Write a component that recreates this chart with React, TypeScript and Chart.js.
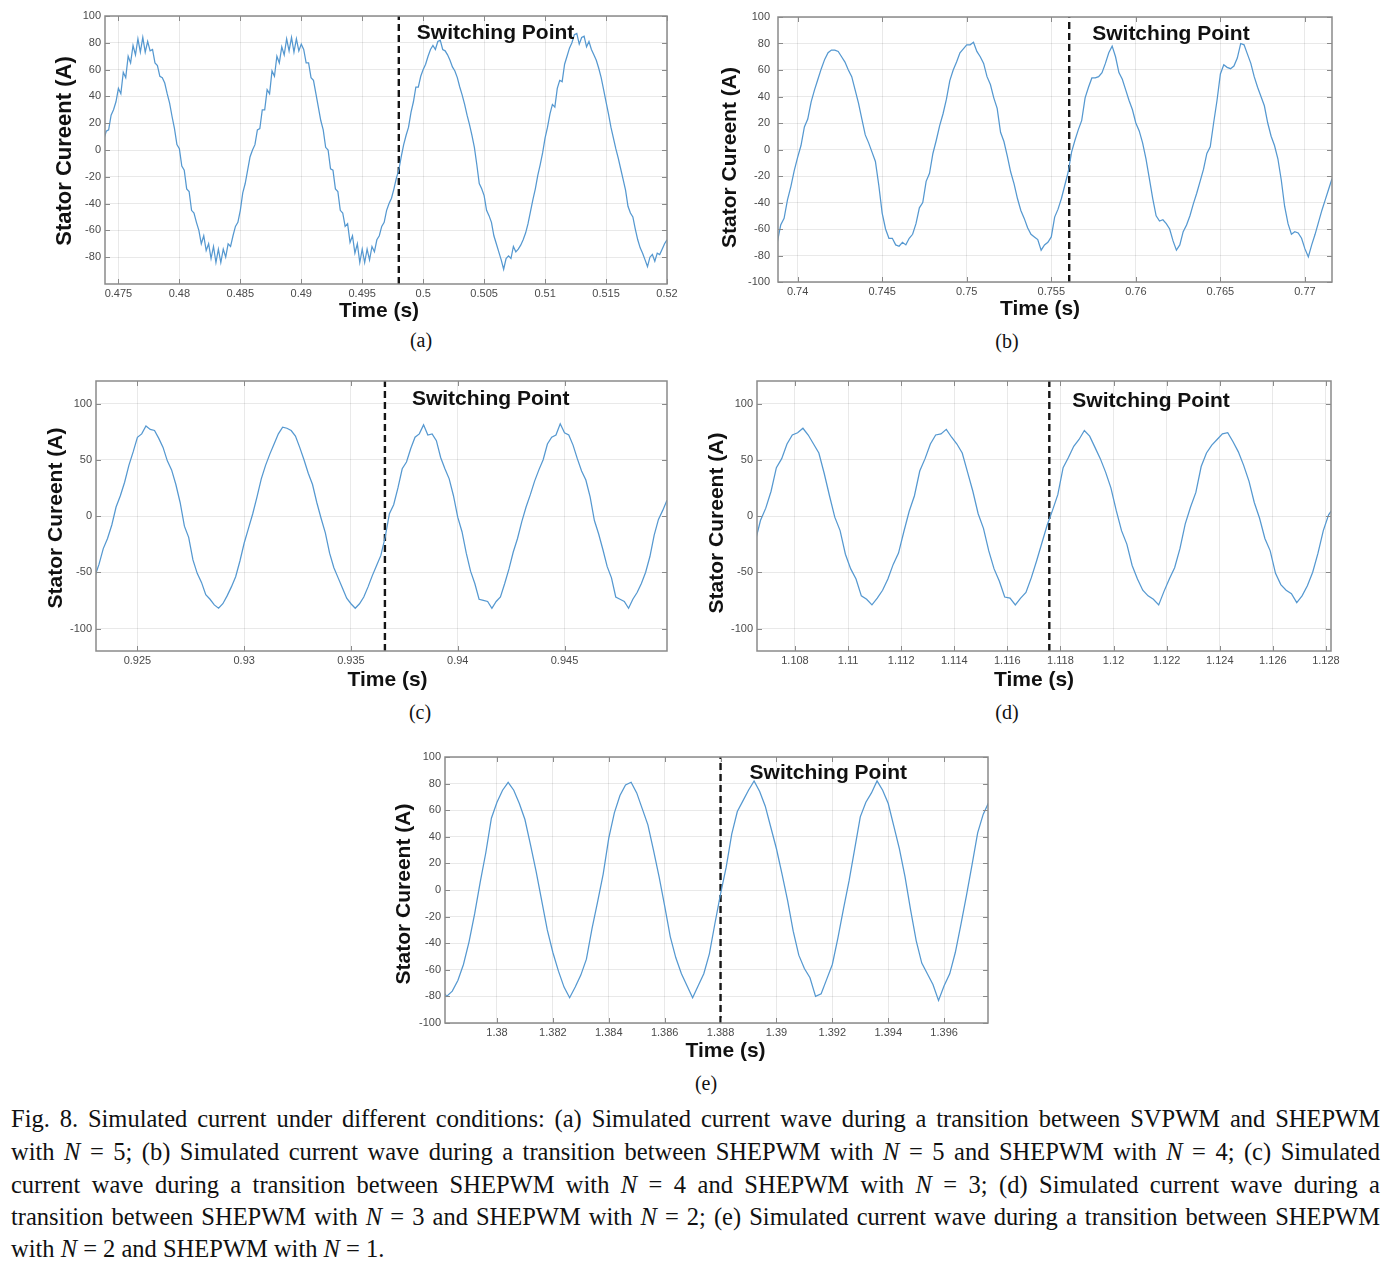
import React, { useEffect, useRef } from "react";
import { Chart, registerables } from "chart.js";

Chart.register(...registerables);

// ---------- data (sampling step of the traces) ----------
const DT = 0.0002;

// (a) SVPWM -> SHEPWM N=5
const T0_A = 0.4738;
const CURRENT_A = [
  8, 14, 15, 26, 30, 36, 46, 42, 58, 54,
  70, 65, 78, 71, 83, 73, 84, 73, 81, 74,
  75, 65, 63, 55, 54, 50, 42, 35, 25, 16,
  4, 1, -12, -15, -29, -31, -45, -47, -54, -60,
  -70, -64, -75, -70, -81, -72, -84, -74, -84, -74,
  -80, -70, -72, -64, -57, -54, -45, -32, -25, -15,
  -5, 0, 4, 15, 16, 30, 30, 45, 42, 59,
  55, 70, 65, 77, 71, 83, 74, 84, 73, 83,
  74, 79, 75, 65, 65, 54, 52, 42, 32, 22,
  15, 2, 0, -14, -15, -29, -31, -45, -47, -57,
  -55, -69, -64, -77, -70, -84, -74, -84, -74, -82,
  -72, -76, -67, -64, -57, -54, -45, -40, -36, -29,
  -21, -15, -5, 4, 11, 17, 28, 36, 47, 47,
  55, 60, 64, 70, 75, 78, 75, 81, 82, 75,
  74, 71, 67, 62, 59, 54, 47, 41, 34, 26,
  19, 11, 2, -11, -25, -29, -34, -45, -49, -54,
  -64, -70, -76, -82, -89, -81, -79, -81, -72, -76,
  -74, -71, -67, -62, -55, -46, -37, -29, -19, -11,
  -2, 9, 17, 27, 34, 32, 46, 52, 51, 64,
  70, 76, 80, 86, 87, 79, 84, 85, 77, 81,
  75, 71, 67, 61, 54, 45, 36, 27, 17, 9,
  1, -6, -14, -22, -30, -42, -47, -50, -59, -67,
  -73, -77, -82, -87, -80, -78, -83, -77, -78, -74,
  -70, -67,
];
const SWITCH_A = 0.498;
const XTICKS_A = [0.475, 0.48, 0.485, 0.49, 0.495, 0.5, 0.505, 0.51, 0.515, 0.52];
const XLABELS_A = ["0.475", "0.48", "0.485", "0.49", "0.495", "0.5", "0.505", "0.51", "0.515", "0.52"];
const YTICKS_A = [-80, -60, -40, -20, 0, 20, 40, 60, 80, 100];

// (b) SHEPWM N=5 -> N=4
const T0_B = 0.7388;
const CURRENT_B = [
  -70, -57, -52, -38, -28, -16, -6, 3, 17, 23,
  36, 45, 53, 61, 68, 73, 75, 75, 74, 70,
  66, 60, 55, 45, 35, 23, 11, 5, -2, -9,
  -27, -48, -60, -67, -67, -72, -73, -70, -72, -67,
  -64, -56, -44, -40, -24, -18, -3, 7, 18, 27,
  38, 52, 60, 66, 73, 76, 79, 79, 81, 74,
  70, 65, 55, 49, 39, 31, 13, 6, -5, -17,
  -26, -37, -46, -52, -59, -64, -66, -68, -76, -72,
  -70, -66, -51, -45, -37, -27, -17, -2, 7, 15,
  22, 39, 47, 54, 54, 55, 58, 65, 73, 78,
  70, 58, 53, 45, 37, 30, 20, 14, 5, -7,
  -22, -37, -50, -54, -53, -56, -60, -69, -76, -72,
  -62, -57, -50, -41, -33, -24, -15, -3, 2, 20,
  37, 57, 64, 62, 61, 63, 69, 80, 79, 72,
  65, 55, 47, 40, 33, 20, 10, 3, -7, -23,
  -43, -56, -64, -62, -63, -67, -75, -81, -72, -64,
  -55, -46, -38, -30, -22,
];
const SWITCH_B = 0.75606;
const XTICKS_B = [0.74, 0.745, 0.75, 0.755, 0.76, 0.765, 0.77];
const XLABELS_B = ["0.74", "0.745", "0.75", "0.755", "0.76", "0.765", "0.77"];
const YTICKS_B = [-100, -80, -60, -40, -20, 0, 20, 40, 60, 80, 100];

// (c) SHEPWM N=4 -> N=3
const T0_C = 0.923;
const CURRENT_C = [
  -54, -43, -29, -20, -8, 8, 18, 30, 45, 57,
  70, 73, 80, 77, 76, 69, 61, 49, 41, 28,
  12, -9, -19, -39, -51, -59, -70, -74, -79, -82,
  -78, -71, -63, -54, -40, -24, -11, 2, 17, 33,
  45, 55, 64, 73, 79, 78, 76, 71, 61, 50,
  38, 28, 12, -2, -15, -33, -46, -55, -64, -73,
  -78, -82, -78, -72, -63, -53, -44, -35, -19, 2,
  10, 25, 42, 48, 60, 70, 73, 81, 72, 73,
  67, 52, 42, 33, 18, -1, -14, -33, -49, -60,
  -74, -75, -76, -82, -76, -72, -60, -47, -32, -20,
  -5, 8, 19, 31, 41, 50, 64, 70, 72, 82,
  74, 72, 63, 51, 40, 32, 17, -4, -16, -30,
  -45, -55, -72, -74, -76, -82, -74, -68, -60, -50,
  -36, -17, -3, 5, 14,
];
const SWITCH_C = 0.93659;
const XTICKS_C = [0.925, 0.93, 0.935, 0.94, 0.945];
const XLABELS_C = ["0.925", "0.93", "0.935", "0.94", "0.945"];
const YTICKS_C = [-100, -50, 0, 50, 100];

// (d) SHEPWM N=3 -> N=2
const T0_D = 1.1065;
const CURRENT_D = [
  -23, -4, 7, 22, 43, 51, 64, 72, 74, 78,
  72, 64, 56, 38, 18, -1, -13, -34, -47, -56,
  -71, -74, -79, -73, -66, -56, -43, -33, -14, 4,
  18, 40, 51, 64, 72, 73, 77, 70, 64, 56,
  39, 22, 2, -11, -31, -47, -58, -72, -73, -79,
  -73, -68, -55, -40, -24, -8, 5, 19, 43, 52,
  62, 68, 76, 71, 61, 51, 39, 25, 5, -13,
  -25, -44, -56, -66, -71, -74, -79, -67, -56, -46,
  -29, -7, 8, 21, 44, 56, 63, 68, 73, 74,
  66, 57, 45, 31, 12, -2, -20, -31, -51, -61,
  -66, -69, -77, -71, -62, -50, -33, -13, 1, 8,
];
const SWITCH_D = 1.11758;
const XTICKS_D = [1.108, 1.11, 1.112, 1.114, 1.116, 1.118, 1.12, 1.122, 1.124, 1.126, 1.128];
const XLABELS_D = ["1.108", "1.11", "1.112", "1.114", "1.116", "1.118", "1.12", "1.122", "1.124", "1.126", "1.128"];
const YTICKS_D = [-100, -50, 0, 50, 100];

// (e) SHEPWM N=2 -> N=1
const T0_E = 1.378;
const CURRENT_E = [
  -74, -80, -76, -68, -56, -39, -18, 6, 28, 54,
  66, 75, 81, 75, 65, 53, 34, 14, -8, -30,
  -47, -61, -73, -81, -73, -64, -52, -29, -9, 12,
  39, 58, 71, 79, 81, 73, 61, 49, 30, 10,
  -12, -35, -51, -63, -72, -81, -72, -63, -48, -25,
  -3, 17, 42, 59, 67, 75, 82, 74, 63, 47,
  31, 12, -8, -31, -49, -59, -66, -80, -78, -67,
  -56, -36, -14, 7, 31, 55, 66, 73, 82, 75,
  65, 48, 31, 10, -15, -38, -55, -63, -71, -83,
  -72, -63, -47, -26, -4, 19, 43, 57, 66, 72,
];
const SWITCH_E = 1.388;
const XTICKS_E = [1.38, 1.382, 1.384, 1.386, 1.388, 1.39, 1.392, 1.394, 1.396];
const XLABELS_E = ["1.38", "1.382", "1.384", "1.386", "1.388", "1.39", "1.392", "1.394", "1.396"];
const YTICKS_E = [-100, -80, -60, -40, -20, 0, 20, 40, 60, 80, 100];

const CAPTION_LINES = [
  "Fig. 8. Simulated current under different conditions: (a) Simulated current wave during a transition between SVPWM and SHEPWM",
  "with {N} = 5; (b) Simulated current wave during a transition between SHEPWM with {N} = 5 and SHEPWM with {N} = 4; (c) Simulated",
  "current wave during a transition between SHEPWM with {N} = 4 and SHEPWM with {N} = 3; (d) Simulated current wave during a",
  "transition between SHEPWM with {N} = 3 and SHEPWM with {N} = 2; (e) Simulated current wave during a transition between SHEPWM",
  "with {N} = 2 and SHEPWM with {N} = 1.",
];

// ---------- styles ----------
const SANS = "'Liberation Sans', Arial, Helvetica, sans-serif";
const SERIF = "'Liberation Serif', 'Times New Roman', serif";
const LINE_BLUE = "#5598d0";
const GRID = "rgba(0,0,0,0.085)";
const BOX = "#8a8a8a";
const TICK_COLOR = "#4a4a4a";
const TITLE_COLOR = "#111";
const PAD_TOP = 16;
const PAD_RIGHT = 16;

type PanelCfg = {
  t0: number;
  values: number[];
  sw: number;
  xMin: number;
  xMax: number;
  yMin: number;
  yMax: number;
  xTicks: number[];
  xLabels: string[];
  yTicks: number[];
  L: number;
  T: number;
  R: number;
  B: number;
  yW: number;
  xH: number;
  yTickPad: number;
  yTitleSize: number;
  xTitleDx: number;
  yTitleDy: number;
  swDx: number;
  swDy: number;
  caption: string;
  capX: number;
  capY: number;
};

const PANELS: PanelCfg[] = [
  {
    t0: T0_A, values: CURRENT_A, sw: SWITCH_A,
    xMin: 0.4739, xMax: 0.52, yMin: -100, yMax: 100,
    xTicks: XTICKS_A, xLabels: XLABELS_A, yTicks: YTICKS_A,
    L: 105, T: 16, R: 667, B: 284, yW: 53, xH: 40, yTickPad: 4, yTitleSize: 22,
    xTitleDx: -7, yTitleDy: 1,
    swDx: 18, swDy: 17, caption: "(a)", capX: 421, capY: 340,
  },
  {
    t0: T0_B, values: CURRENT_B, sw: SWITCH_B,
    xMin: 0.73884, xMax: 0.7716, yMin: -100, yMax: 100,
    xTicks: XTICKS_B, xLabels: XLABELS_B, yTicks: YTICKS_B,
    L: 778, T: 17, R: 1332, B: 282, yW: 60, xH: 40, yTickPad: 8, yTitleSize: 21,
    xTitleDx: -15, yTitleDy: 8,
    swDx: 23, swDy: 17, caption: "(b)", capX: 1007, capY: 341,
  },
  {
    t0: T0_C, values: CURRENT_C, sw: SWITCH_C,
    xMin: 0.92306, xMax: 0.9498, yMin: -120, yMax: 120,
    xTicks: XTICKS_C, xLabels: XLABELS_C, yTicks: YTICKS_C,
    L: 96, T: 381, R: 667, B: 651, yW: 52, xH: 42, yTickPad: 4, yTitleSize: 21,
    xTitleDx: 6, yTitleDy: 2,
    swDx: 27, swDy: 18, caption: "(c)", capX: 420, capY: 712,
  },
  {
    t0: T0_D, values: CURRENT_D, sw: SWITCH_D,
    xMin: 1.10657, xMax: 1.12819, yMin: -120, yMax: 120,
    xTicks: XTICKS_D, xLabels: XLABELS_D, yTicks: YTICKS_D,
    L: 757, T: 381, R: 1331, B: 651, yW: 52, xH: 42, yTickPad: 4, yTitleSize: 21,
    xTitleDx: -10, yTitleDy: 7,
    swDx: 23, swDy: 20, caption: "(d)", capX: 1007, capY: 712,
  },
  {
    t0: T0_E, values: CURRENT_E, sw: SWITCH_E,
    xMin: 1.37814, xMax: 1.39757, yMin: -100, yMax: 100,
    xTicks: XTICKS_E, xLabels: XLABELS_E, yTicks: YTICKS_E,
    L: 445, T: 757, R: 988, B: 1023, yW: 53, xH: 41, yTickPad: 4, yTitleSize: 21,
    xTitleDx: 9, yTitleDy: 4,
    swDx: 29, swDy: 16, caption: "(e)", capX: 706, capY: 1083,
  },
];

function Panel({ cfg }: { cfg: PanelCfg }) {
  const ref = useRef<HTMLCanvasElement | null>(null);
  const width = cfg.R - cfg.L + cfg.yW + PAD_RIGHT;
  const height = cfg.B - cfg.T + PAD_TOP + cfg.xH;
  const left = cfg.L - cfg.yW;
  const top = cfg.T - PAD_TOP;

  useEffect(() => {
    if (!ref.current) return;
    const overlay = {
      id: "matlabBox",
      afterDatasetsDraw(chart: any) {
        const { ctx, chartArea: a, scales } = chart;
        ctx.save();
        // switching label
        const xs = scales.x.getPixelForValue(cfg.sw);
        ctx.font = `bold 21px ${SANS}`;
        ctx.fillStyle = TITLE_COLOR;
        ctx.textBaseline = "middle";
        ctx.textAlign = "left";
        ctx.fillText("Switching Point", xs + cfg.swDx, a.top + cfg.swDy);
        // box
        ctx.strokeStyle = BOX;
        ctx.lineWidth = 1.5;
        ctx.strokeRect(a.left, a.top, a.right - a.left, a.bottom - a.top);
        // inward tick marks
        ctx.lineWidth = 1;
        ctx.beginPath();
        for (const t of scales.x.ticks) {
          const px = Math.round(scales.x.getPixelForValue(t.value)) + 0.5;
          ctx.moveTo(px, a.bottom);
          ctx.lineTo(px, a.bottom - 5);
          ctx.moveTo(px, a.top);
          ctx.lineTo(px, a.top + 5);
        }
        for (const t of scales.y.ticks) {
          const py = Math.round(scales.y.getPixelForValue(t.value)) + 0.5;
          ctx.moveTo(a.left, py);
          ctx.lineTo(a.left + 5, py);
          ctx.moveTo(a.right, py);
          ctx.lineTo(a.right - 5, py);
        }
        ctx.stroke();
        ctx.restore();
      },
      afterDraw(chart: any) {
        const { ctx, chartArea: a } = chart;
        ctx.save();
        ctx.fillStyle = TITLE_COLOR;
        ctx.textAlign = "center";
        ctx.textBaseline = "middle";
        // x-axis title
        ctx.font = `bold 21px ${SANS}`;
        ctx.fillText("Time (s)", (a.left + a.right) / 2 + cfg.xTitleDx, a.bottom + cfg.xH - 12.6);
        // y-axis title
        ctx.font = `bold ${cfg.yTitleSize}px ${SANS}`;
        ctx.translate(cfg.yTitleSize * 0.6, (a.top + a.bottom) / 2 + cfg.yTitleDy);
        ctx.rotate(-Math.PI / 2);
        ctx.fillText("Stator Cureent (A)", 0, 0);
        ctx.restore();
      },
    };

    const chart = new Chart(ref.current, {
      type: "line",
      data: {
        datasets: [
          {
            data: cfg.values.map((v, i) => ({ x: cfg.t0 + i * DT, y: v })),
            borderColor: LINE_BLUE,
            borderWidth: 1.25,
            pointRadius: 0,
            tension: 0,
            fill: false,
          },
          {
            data: [
              { x: cfg.sw, y: cfg.yMin },
              { x: cfg.sw, y: cfg.yMax },
            ],
            borderColor: "#151515",
            borderWidth: 2.4,
            borderDash: [7, 4],
            pointRadius: 0,
            fill: false,
          },
        ],
      },
      options: {
        animation: false,
        responsive: false,
        maintainAspectRatio: false,
        events: [],
        layout: { padding: { top: PAD_TOP, right: PAD_RIGHT, left: 0, bottom: 0 } },
        plugins: { legend: { display: false }, tooltip: { enabled: false } },
        scales: {
          x: {
            type: "linear",
            min: cfg.xMin,
            max: cfg.xMax,
            afterBuildTicks: (s: any) => {
              s.ticks = cfg.xTicks.map((v) => ({ value: v }));
            },
            afterFit: (s: any) => {
              s.height = cfg.xH;
            },
            ticks: {
              autoSkip: false,
              maxRotation: 0,
              minRotation: 0,
              padding: 3,
              color: TICK_COLOR,
              font: { size: 11, family: SANS },
              callback: (_v: any, i: number) => cfg.xLabels[i] ?? "",
            },
            grid: { color: GRID, lineWidth: 1, drawTicks: false },
            border: { display: false },
            title: { display: false },
          },
          y: {
            type: "linear",
            min: cfg.yMin,
            max: cfg.yMax,
            afterBuildTicks: (s: any) => {
              s.ticks = cfg.yTicks.map((v) => ({ value: v }));
            },
            afterFit: (s: any) => {
              s.width = cfg.yW;
            },
            ticks: {
              autoSkip: false,
              padding: cfg.yTickPad,
              color: TICK_COLOR,
              font: { size: 11, family: SANS },
              callback: (v: any) => String(v),
            },
            grid: { color: GRID, lineWidth: 1, drawTicks: false },
            border: { display: false },
            title: { display: false },
          },
        },
      } as any,
      plugins: [overlay],
    });
    return () => chart.destroy();
  }, [cfg]);

  return (
    <>
      <canvas
        ref={ref}
        width={width}
        height={height}
        style={{ position: "absolute", left, top, width, height, display: "block" }}
      />
      <div
        style={{
          position: "absolute",
          left: cfg.capX,
          top: cfg.capY,
          transform: "translate(-50%, -50%)",
          fontFamily: SERIF,
          fontSize: 20,
          color: "#111",
          whiteSpace: "nowrap",
        }}
      >
        {cfg.caption}
      </div>
    </>
  );
}

function CaptionLine({ text, last, top }: { text: string; last: boolean; top: number }) {
  const parts = text.split("{N}");
  return (
    <div
      style={{
        position: "absolute",
        left: 11,
        top,
        width: 1369,
        height: 32,
        lineHeight: "32px",
        fontFamily: SERIF,
        fontSize: 24.5,
        color: "#111",
        textAlign: "justify",
        textAlignLast: last ? "left" : "justify",
        whiteSpace: "nowrap",
      } as any}
    >
      {parts.map((p, i) => (
        <React.Fragment key={i}>
          {p}
          {i < parts.length - 1 ? <i>N</i> : null}
        </React.Fragment>
      ))}
    </div>
  );
}

export default function App() {
  const lineCenters = [1119, 1152, 1185, 1217, 1249];
  return (
    <div
      style={{
        position: "absolute",
        left: 0,
        top: 0,
        width: 1399,
        height: 1266,
        background: "#fff",
        overflow: "hidden",
      }}
    >
      {PANELS.map((p, i) => (
        <Panel key={i} cfg={p} />
      ))}
      {CAPTION_LINES.map((t, i) => (
        <CaptionLine key={i} text={t} last={i === CAPTION_LINES.length - 1} top={lineCenters[i] - 16} />
      ))}
    </div>
  );
}
